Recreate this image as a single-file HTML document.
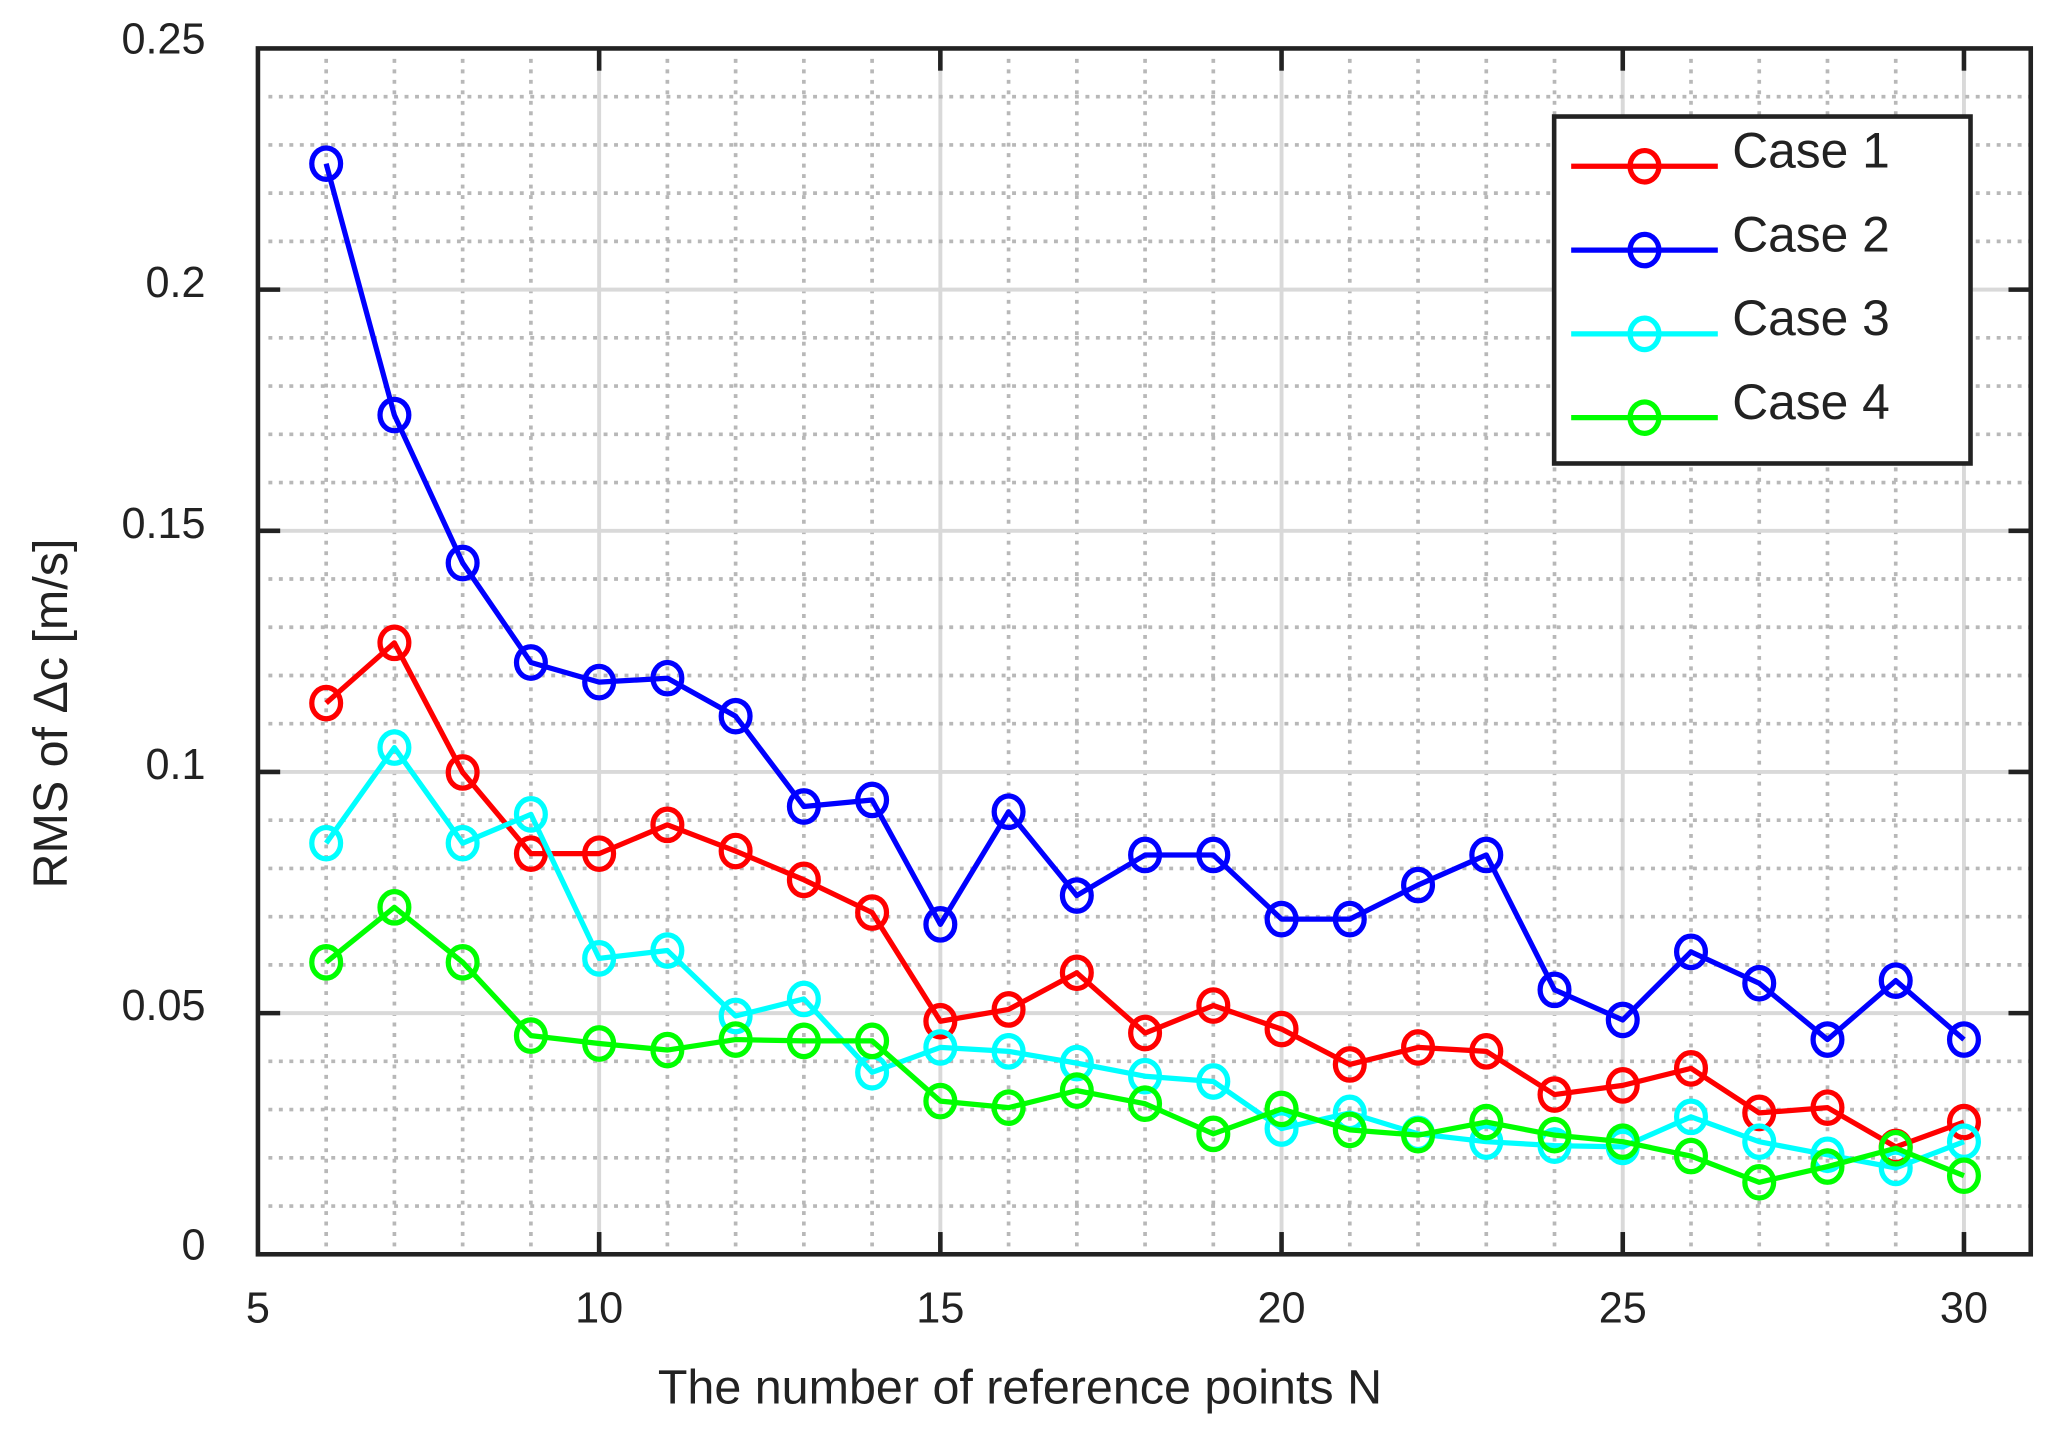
<!DOCTYPE html>
<html><head><meta charset="utf-8">
<style>
html,body{margin:0;padding:0;background:#fff;}
svg{display:block;}
text{font-family:"Liberation Sans",Arial,sans-serif;fill:#222;}
</style></head>
<body>
<svg id="s" width="2053" height="1433" viewBox="0 0 1568 1094.5" preserveAspectRatio="none" xmlns="http://www.w3.org/2000/svg">
<rect x="0" y="0" width="1568" height="1094.5" fill="#fff"/>
<g id="grid"></g>
<g id="series"></g>
<rect x="197" y="37" width="1354" height="921" fill="none" stroke="#222" stroke-width="3.5"/>
<g id="ticks"></g>
<g font-size="33" text-anchor="end">
<text x="157" y="962">0</text>
<text x="157" y="779">0.05</text>
<text x="157" y="595">0.1</text>
<text x="157" y="411">0.15</text>
<text x="157" y="227">0.2</text>
<text x="157" y="41">0.25</text>
</g>
<g font-size="33" text-anchor="middle">
<text x="197" y="1010">5</text>
<text x="457.6" y="1010">10</text>
<text x="718.2" y="1010">15</text>
<text x="978.8" y="1010">20</text>
<text x="1239.4" y="1010">25</text>
<text x="1500" y="1010">30</text>
</g>
<text x="779" y="1072" font-size="37" text-anchor="middle">The number of reference points N</text>
<text transform="translate(51,545) rotate(-90)" font-size="37" text-anchor="middle">RMS of Δc [m/s]</text>
<g>
<rect x="1187" y="89" width="318" height="265" fill="#fff" stroke="#222" stroke-width="3.5"/>
<g id="leg"></g>
<g font-size="38">
<text x="1323" y="128">Case 1</text>
<text x="1323" y="192">Case 2</text>
<text x="1323" y="256">Case 3</text>
<text x="1323" y="320">Case 4</text>
</g>
</g>
</svg>
<script>
var NS="http://www.w3.org/2000/svg";
function el(p,t,a){var e=document.createElementNS(NS,t);for(var k in a)e.setAttribute(k,a[k]);p.appendChild(e);return e;}
var L=197,R=1551,T=37,B=958,ux=52.12,uy=36.84;
var g=document.getElementById('grid');
for(var n=6;n<=30;n++){var x=L+ux*(n-5);
 if(n%5==0) el(g,'line',{x1:x,y1:T,x2:x,y2:B,stroke:'#d9d9d9','stroke-width':3});
 else el(g,'line',{x1:x,y1:T+8,x2:x,y2:B,stroke:'#b8b8b8','stroke-width':2.8,'stroke-dasharray':'3,5'});}
for(var i=1;i<25;i++){var y=B-uy*i;
 if(i%5==0) el(g,'line',{x1:L,y1:y,x2:R,y2:y,stroke:'#d9d9d9','stroke-width':3});
 else el(g,'line',{x1:L+8,y1:y,x2:R,y2:y,stroke:'#b8b8b8','stroke-width':2.8,'stroke-dasharray':'3,5'});}
var tk=document.getElementById('ticks');
for(var n=10;n<=30;n+=5){var x=L+ux*(n-5);
 el(tk,'line',{x1:x,y1:B,x2:x,y2:B-17,stroke:'#222','stroke-width':3.5});
 el(tk,'line',{x1:x,y1:T,x2:x,y2:T+17,stroke:'#222','stroke-width':3.5});}
for(var i=5;i<25;i+=5){var y=B-uy*i;
 el(tk,'line',{x1:L,y1:y,x2:L+17,y2:y,stroke:'#222','stroke-width':3.5});
 el(tk,'line',{x1:R,y1:y,x2:R-17,y2:y,stroke:'#222','stroke-width':3.5});}
var data=[
['#ff0000',[537,491,590,652,652,630,650,672,697,780,771,743,789,768,786,813,800,803,836,829,816,850,846,876,857]],
['#0000ff',[125,317,430,506,521,518,547,616,611,706,620,684,653,653,702,702,676,653,756,779,727,751,794,749,794]],
['#00ffff',[644,571,644,622,732,726,776,763,819,800,803,812,822,826,862,850,866,872,875,876,853,872,882,892,872]],
['#00ff00',[735,693,735,791,797,802,794,795,795,841,846,833,843,866,847,863,867,857,867,872,883,903,891,877,898]]];
var s=document.getElementById('series'),lg=document.getElementById('leg');
data.forEach(function(d,k){var pts=d[1].map(function(y,i){return (L+ux*(i+1)).toFixed(1)+','+y;});
 el(s,'polyline',{points:pts.join(' '),fill:'none',stroke:d[0],'stroke-width':4,'stroke-linejoin':'round'});
 d[1].forEach(function(y,i){el(s,'ellipse',{cx:L+ux*(i+1),cy:y,rx:11,ry:12,fill:'none',stroke:d[0],'stroke-width':4});});
 var ly=127+64*k;
 el(lg,'line',{x1:1200,y1:ly,x2:1312,y2:ly,stroke:d[0],'stroke-width':4});
 el(lg,'ellipse',{cx:1256,cy:ly,rx:11,ry:12,fill:'none',stroke:d[0],'stroke-width':4});});
</script>
</body></html>
